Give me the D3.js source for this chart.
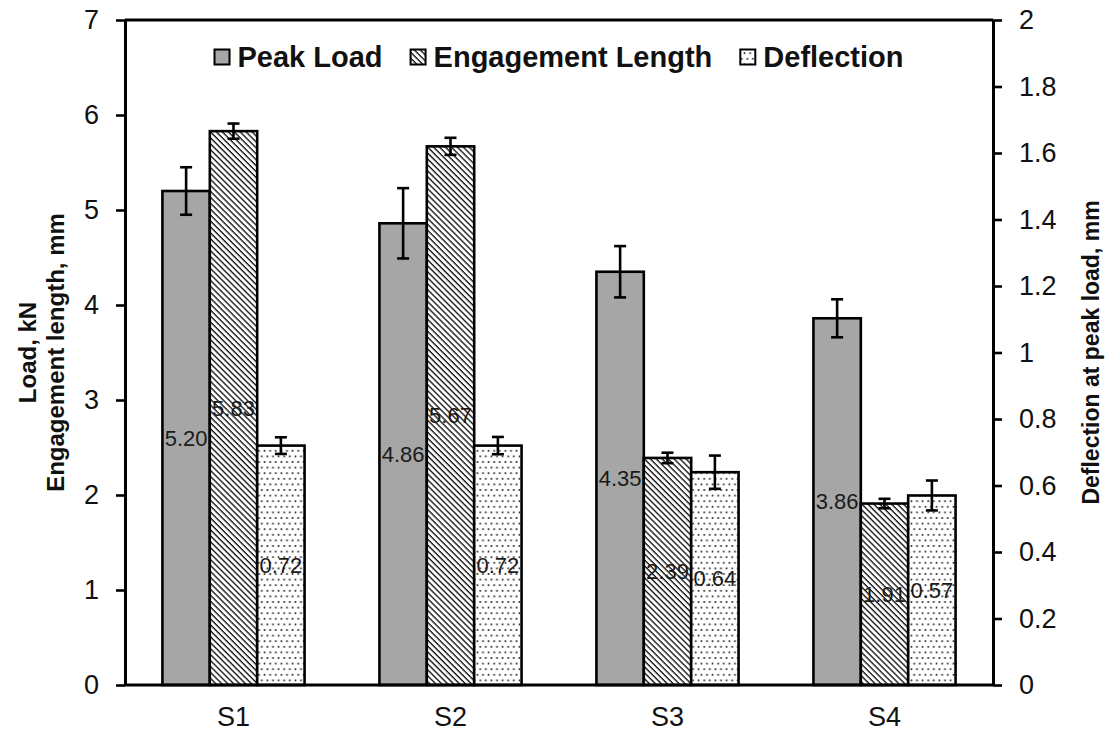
<!DOCTYPE html>
<html>
<head>
<meta charset="utf-8">
<script src="https://cdn.jsdelivr.net/npm/d3@7"></script>
<style>
  html, body { margin: 0; padding: 0; background: #fff; }
  svg { display: block; font-family: "Liberation Sans", Arial, sans-serif; }
</style>
</head>
<body>
<svg id="chart" width="1109" height="735"></svg>
<script>
// ---- data ----
const categories = ["S1", "S2", "S3", "S4"];
const seriesNames = ["Peak Load", "Engagement Length", "Deflection"];
const peakLoad = [5.20, 4.86, 4.35, 3.86];
const peakLoadErr = [0.25, 0.37, 0.27, 0.20];
const engagementLength = [5.83, 5.67, 2.39, 1.91];
const engagementErr = [0.08, 0.09, 0.055, 0.05];
const deflection = [0.72, 0.72, 0.64, 0.57];
const deflectionErr = [0.025, 0.026, 0.05, 0.045];
const leftTicks = [0, 1, 2, 3, 4, 5, 6, 7];
const rightTicks = [0, 0.2, 0.4, 0.6, 0.8, 1, 1.2, 1.4, 1.6, 1.8, 2];
const leftTitle = ["Load, kN", "Engagement length, mm"];
const rightTitle = "Deflection at peak load, mm";

// ---- layout ----
const W = 1109, H = 735;
const m = { left: 125, right: 1109 - 993, top: 20, bottom: 735 - 685 };
const svg = d3.select("#chart");

const defs = svg.append("defs");
const hatch = defs.append("pattern").attr("id", "hatch")
  .attr("patternUnits", "userSpaceOnUse").attr("width", 4.2).attr("height", 4.2)
  .attr("patternTransform", "rotate(-45)");
hatch.append("rect").attr("width", 4.2).attr("height", 4.2).attr("fill", "#fff");
hatch.append("line").attr("x1", 1).attr("y1", 0).attr("x2", 1).attr("y2", 4.2)
  .attr("stroke", "#111").attr("stroke-width", 1.35);

const dots = defs.append("pattern").attr("id", "dots")
  .attr("patternUnits", "userSpaceOnUse").attr("width", 5.6).attr("height", 11.2);
dots.append("rect").attr("width", 5.6).attr("height", 11.2).attr("fill", "#fff");
dots.append("circle").attr("cx", 1.4).attr("cy", 2.8).attr("r", 1.0).attr("fill", "#222");
dots.append("circle").attr("cx", 4.2).attr("cy", 8.4).attr("r", 1.0).attr("fill", "#222");

const fills = ["#a6a6a6", "url(#hatch)", "url(#dots)"];

const x0 = d3.scaleBand().domain(categories).range([m.left, W - m.right]).paddingInner(0).paddingOuter(0);
const x1 = d3.scaleBand().domain(seriesNames).range([0, x0.bandwidth()]).paddingInner(0).paddingOuter(0.79);
const yL = d3.scaleLinear().domain([0, 7]).range([H - m.bottom, m.top]);
const yR = d3.scaleLinear().domain([0, 2]).range([H - m.bottom, m.top]);

const rows = [];
categories.forEach((c, i) => {
  rows.push({ cat: c, s: seriesNames[0], v: peakLoad[i], e: peakLoadErr[i], y: yL, f: fills[0] });
  rows.push({ cat: c, s: seriesNames[1], v: engagementLength[i], e: engagementErr[i], y: yL, f: fills[1] });
  rows.push({ cat: c, s: seriesNames[2], v: deflection[i], e: deflectionErr[i], y: yR, f: fills[2] });
});

// bars
const g = svg.append("g");
g.selectAll("rect.bar").data(rows).join("rect").attr("class", "bar")
  .attr("x", d => x0(d.cat) + x1(d.s))
  .attr("width", x1.bandwidth())
  .attr("y", d => d.y(d.v))
  .attr("height", d => d.y(0) - d.y(d.v))
  .attr("fill", d => d.f)
  .attr("stroke", "#000").attr("stroke-width", 2.6);

// error bars
const eb = g.selectAll("g.err").data(rows).join("g").attr("class", "err")
  .attr("stroke", "#000").attr("stroke-width", 2.6);
const cx = d => x0(d.cat) + x1(d.s) + x1.bandwidth() / 2;
eb.append("line").attr("x1", cx).attr("x2", cx)
  .attr("y1", d => d.y(d.v + d.e)).attr("y2", d => d.y(d.v - d.e));
eb.append("line").attr("x1", d => cx(d) - 6).attr("x2", d => cx(d) + 6)
  .attr("y1", d => d.y(d.v + d.e)).attr("y2", d => d.y(d.v + d.e));
eb.append("line").attr("x1", d => cx(d) - 6).attr("x2", d => cx(d) + 6)
  .attr("y1", d => d.y(d.v - d.e)).attr("y2", d => d.y(d.v - d.e));

// data labels
g.selectAll("text.lbl").data(rows).join("text").attr("class", "lbl")
  .attr("x", cx)
  .attr("y", d => d.y(d.v / 2))
  .attr("dy", "0.35em")
  .attr("text-anchor", "middle")
  .attr("font-size", 22)
  .attr("fill", "#1a1a1a")
  .text(d => d.v.toFixed(2));

// plot frame (top border)
svg.append("line").attr("x1", m.left).attr("x2", W - m.right)
  .attr("y1", m.top).attr("y2", m.top).attr("stroke", "#000").attr("stroke-width", 3);

// axes
const axL = svg.append("g").attr("transform", `translate(${m.left},0)`)
  .call(d3.axisLeft(yL).tickValues(leftTicks).tickSize(9).tickPadding(17).tickSizeOuter(0).tickFormat(d3.format("d")));
const axR = svg.append("g").attr("transform", `translate(${W - m.right},0)`)
  .call(d3.axisRight(yR).tickValues(rightTicks).tickSize(9).tickPadding(17).tickSizeOuter(0).tickFormat(d => String(+d.toFixed(1))));
const axB = svg.append("g").attr("transform", `translate(0,${H - m.bottom})`)
  .call(d3.axisBottom(x0).tickSize(0).tickPadding(22).tickSizeOuter(0));

[axL, axR, axB].forEach(a => {
  a.selectAll(".domain").attr("stroke", "#000").attr("stroke-width", 3);
  a.selectAll(".tick line").attr("stroke", "#000").attr("stroke-width", 2.6);
  a.selectAll(".tick text").attr("font-size", 27).attr("fill", "#111")
    .attr("font-family", "Liberation Sans, Arial, sans-serif");
});
axB.select(".domain").attr("d", `M${m.left},0H${W - m.right}`);

// axis titles
const midY = (m.top + H - m.bottom) / 2;
const lt = svg.append("text")
  .attr("transform", `translate(36,${midY}) rotate(-90)`)
  .attr("text-anchor", "middle").attr("font-weight", "bold").attr("font-size", 24).attr("fill", "#111");
lt.append("tspan").attr("x", 0).attr("y", 0).text(leftTitle[0]);
lt.append("tspan").attr("x", 0).attr("y", 28).text(leftTitle[1]);

svg.append("text")
  .attr("transform", `translate(1099,${midY}) rotate(-90)`)
  .attr("text-anchor", "middle").attr("font-weight", "bold").attr("font-size", 23).attr("fill", "#111")
  .text(rightTitle);

// legend
const leg = svg.append("g");
const sq = 15, gapT = 8, gapI = 28, ly = 57;
const items = leg.selectAll("g").data(seriesNames).join("g");
items.append("rect").attr("width", sq).attr("height", sq).attr("y", ly - sq / 2)
  .attr("fill", (d, i) => fills[i]).attr("stroke", "#000").attr("stroke-width", 2);
items.append("text").attr("x", sq + gapT).attr("y", ly).attr("dy", "0.36em")
  .attr("font-weight", "bold").attr("font-size", 29).attr("fill", "#111")
  .text(d => d);
let widths = [];
items.each(function () { widths.push(sq + gapT + d3.select(this).select("text").node().getComputedTextLength()); });
const total = d3.sum(widths) + gapI * (widths.length - 1);
let cur = (m.left + W - m.right) / 2 - total / 2;
items.attr("transform", (d, i) => { const t = `translate(${cur},0)`; cur += widths[i] + gapI; return t; });
</script>
</body>
</html>
